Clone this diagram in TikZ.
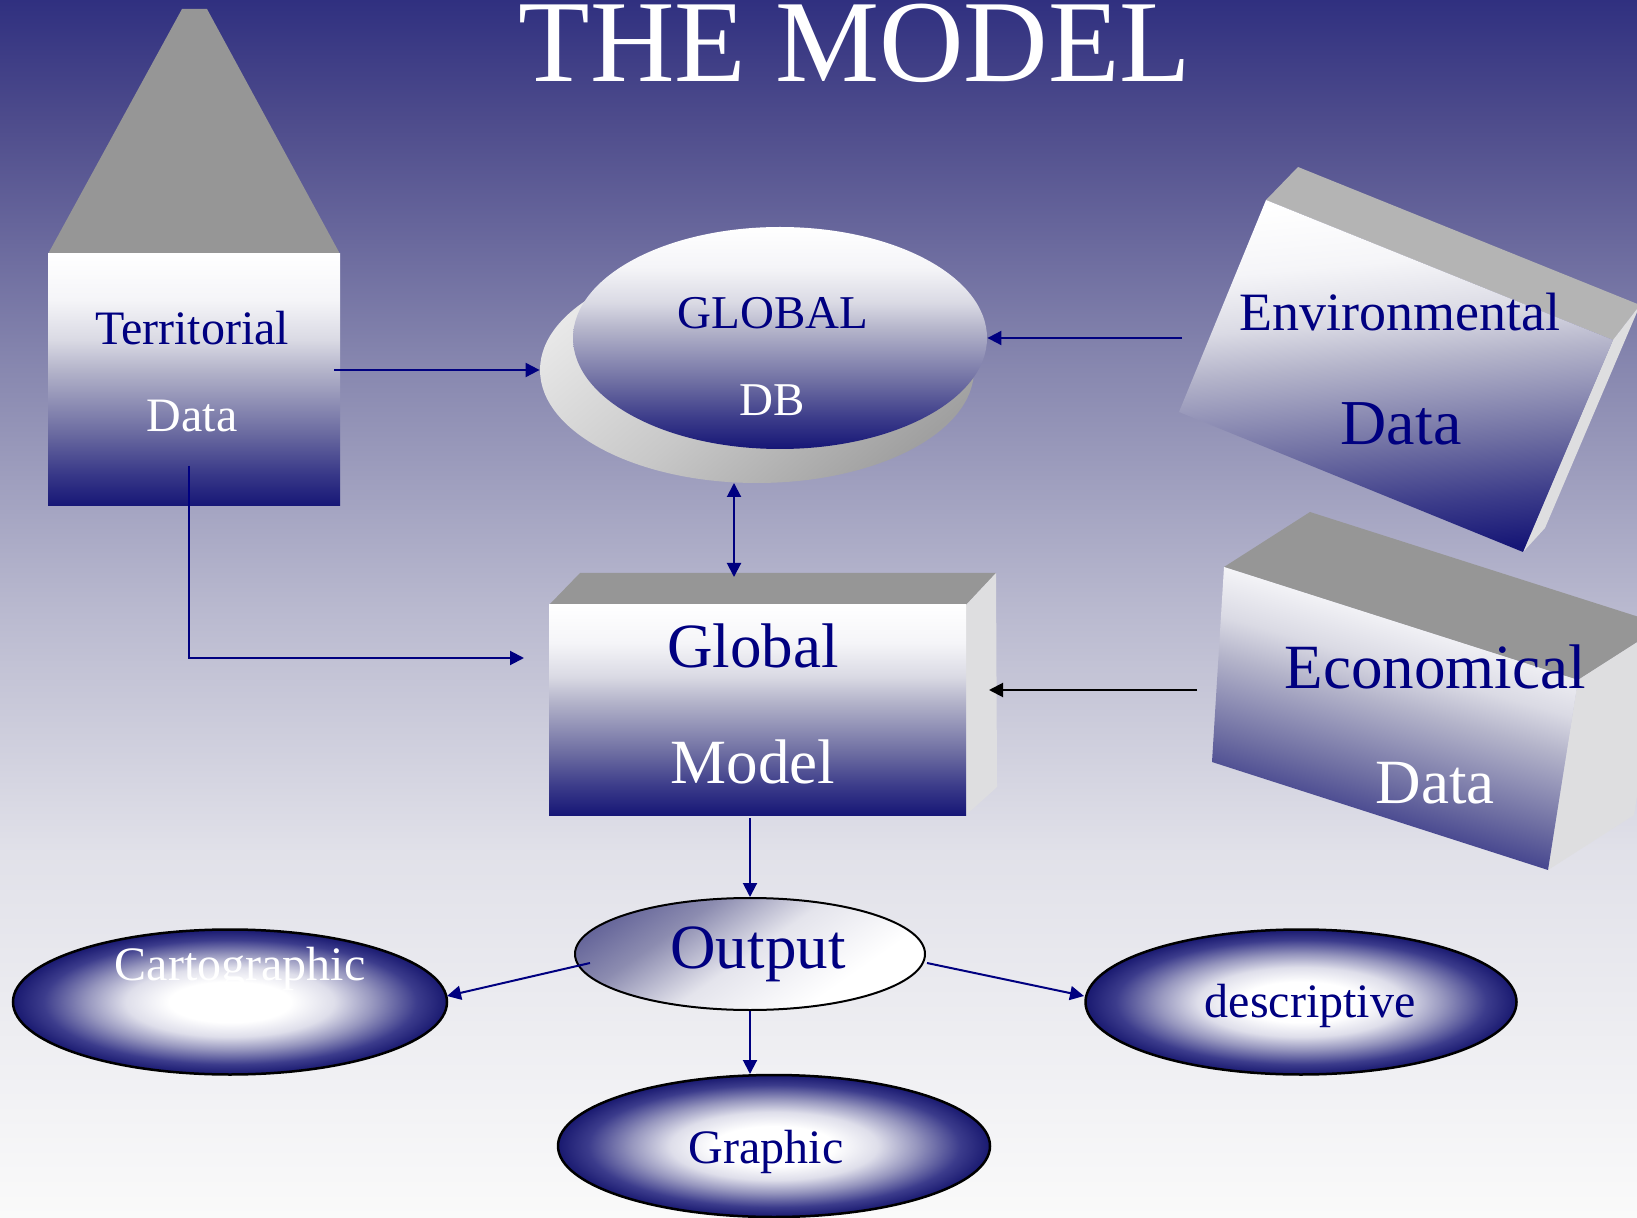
\documentclass[tikz,border=0pt]{standalone}
\usepackage{fontspec}
\setmainfont{Liberation Serif}
\usetikzlibrary{shapes.geometric,arrows.meta}

% palette
\definecolor{navyt}{RGB}{0,0,128}
\definecolor{roofgray}{RGB}{150,150,150}
\definecolor{roofenv}{RGB}{180,180,180}
\definecolor{sidegray}{RGB}{222,222,224}
% background ramp
\definecolor{bgA}{RGB}{250,250,250}
\definecolor{bgB}{RGB}{225,225,233}
\definecolor{bgC}{RGB}{185,185,207}
\definecolor{bgD}{RGB}{135,135,175}
\definecolor{bgE}{RGB}{78,76,140}
\definecolor{bgF}{RGB}{48,48,128}
% face ramp (white top, navy bottom)
\definecolor{fcA}{RGB}{22,22,118}
\definecolor{fcB}{RGB}{60,60,138}
\definecolor{fcC}{RGB}{110,110,162}
\definecolor{fcD}{RGB}{180,180,202}
\definecolor{fcE}{RGB}{218,218,228}
\definecolor{fcF}{RGB}{245,245,248}
% ball ramp
\definecolor{blA}{RGB}{222,222,234}
\definecolor{blB}{RGB}{150,150,190}
\definecolor{blC}{RGB}{60,60,140}
\definecolor{blD}{RGB}{25,25,112}
% base disc
\definecolor{bsA}{RGB}{160,160,160}
\definecolor{bsB}{RGB}{200,200,200}
\definecolor{bsC}{RGB}{232,232,232}
% output disc
\definecolor{otA}{RGB}{228,228,236}
\definecolor{otB}{RGB}{140,140,176}
\definecolor{otC}{RGB}{95,95,150}

\pgfdeclareverticalshading{bgshade}{100bp}{color(0bp)=(bgA); color(25bp)=(bgA);
  color(40bp)=(bgB); color(50bp)=(bgC); color(60bp)=(bgD); color(70bp)=(bgE);
  color(75bp)=(bgF); color(100bp)=(bgF)}
\pgfdeclareverticalshading{faceshade}{100bp}{color(0bp)=(fcA); color(25bp)=(fcA);
  color(32bp)=(fcB); color(40bp)=(fcC); color(52bp)=(fcD); color(58bp)=(fcE);
  color(66bp)=(fcF); color(75bp)=(white); color(100bp)=(white)}
\pgfdeclareradialshading{ballshade}{\pgfpoint{0bp}{0bp}}{color(0bp)=(white);
  color(7bp)=(white); color(12bp)=(blA); color(16.5bp)=(blB); color(21.5bp)=(blC);
  color(25bp)=(blD); color(50bp)=(blD)}
\pgfdeclareverticalshading{baseshade}{100bp}{color(0bp)=(bsA); color(25bp)=(bsA);
  color(50bp)=(bsB); color(75bp)=(bsC); color(100bp)=(bsC)}
\pgfdeclareverticalshading{outshade}{100bp}{color(0bp)=(white); color(32bp)=(white);
  color(50bp)=(otA); color(65bp)=(otB); color(78bp)=(otC); color(100bp)=(otC)}

\begin{document}
\begin{tikzpicture}[x=0.5pt,y=-0.5pt,
  lbl/.style={anchor=base, inner sep=0pt, outer sep=0pt},
  fs24/.style={font=\fontsize{24pt}{24pt}\selectfont},
  fs23/.style={font=\fontsize{23.5pt}{24pt}\selectfont},
  fs27/.style={font=\fontsize{27pt}{27pt}\selectfont},
  fs31/.style={font=\fontsize{31.5pt}{32pt}\selectfont},
  facebox/.style={rectangle, inner sep=0pt, draw=none, shade, shading=faceshade},
  disc/.style={ellipse, inner sep=0pt, draw=black, line width=1.25pt, shade, shading=ballshade},
  conn/.style={draw=navyt, line width=1pt, -{Triangle[length=7pt,width=7pt]}},
  dconn/.style={draw=navyt, line width=1pt, {Triangle[length=7pt,width=7pt]}-{Triangle[length=7pt,width=7pt]}},
  bconn/.style={draw=black, line width=1pt, -{Triangle[length=7pt,width=7pt]}}]

\useasboundingbox (0,0) rectangle (1637,1218);
\clip (0,0) rectangle (1637,1218);
\shade[shading=bgshade] (0,0) rectangle (1637,1218);

% title
\node[lbl, text=white, font=\fontsize{58.5pt}{58pt}\selectfont] (title) at (855,82) {THE MODEL};

% territorial data: house shape
\fill[roofgray] (48,254) -- (182,9) -- (207,9) -- (340,254) -- cycle;
\node[facebox, minimum width=146pt, minimum height=126pt] (terr) at (194,380) {};
\node[lbl, fs24, text=navyt] (terrA) at (192,345) {Territorial};
\node[lbl, fs24, text=white] (terrB) at (192,432) {Data};

% global data base: disc on a tilted base
\node[ellipse, inner sep=0pt, shade, shading=baseshade, shading angle=40,
      minimum width=217pt, minimum height=113pt] (gbase) at (757,370) {};
\node[ellipse, inner sep=0pt, shade, shading=faceshade,
      minimum width=207pt, minimum height=111pt] (gdb) at (780,338) {};
\node[lbl, fs23, text=navyt] (gdbA) at (773,329) {GLOBAL};
\node[lbl, fs23, text=white] (gdbB) at (772,416) {DB};

% global model: box
\fill[roofgray] (549,605) -- (580,573) -- (996,573) -- (966,605) -- cycle;
\fill[sidegray] (966,605) -- (996,573) -- (997,787) -- (966,815) -- cycle;
\node[facebox, minimum width=208.5pt, minimum height=105pt] (gm) at (757.5,710) {};
\node[lbl, fs31, text=navyt] (gmA) at (753,668) {Global};
\node[lbl, fs31, text=white] (gmB) at (753,783) {Model};

% economical data: tilted block
\fill[roofgray] (1224,567) -- (1310,512) -- (1664,625) -- (1578,680) -- cycle;
\fill[sidegray] (1578,680) -- (1664,625) -- (1634,815) -- (1548,870) -- cycle;
\shade[shading=faceshade, shading angle=-16]
  (1224,567) -- (1578,680) -- (1548,870) -- (1212,762) -- cycle;
\node[lbl, fs31, text=navyt] (ecoA) at (1435,689) {Economical};
\node[lbl, fs31, text=white] (ecoB) at (1435,803) {Data};

% environmental data: tilted block
\fill[roofenv] (1266,200) -- (1298,167) -- (1640,305) -- (1613,340) -- cycle;
\fill[sidegray] (1613,340) -- (1640,305) -- (1545,528) -- (1523,552) -- cycle;
\shade[shading=faceshade, shading angle=5]
  (1266,200) -- (1613,340) -- (1523,552) -- (1179,412) -- cycle;
\node[lbl, fs27, text=navyt] (envA) at (1400,331) {Environmental};
\node[lbl, font=\fontsize{32pt}{32pt}\selectfont, text=navyt] (envB) at (1401,445) {Data};

% output and its three products
\node[ellipse, inner sep=0pt, draw=black, line width=1pt, shade, shading=outshade,
      shading angle=35, minimum width=175pt, minimum height=56pt] (out) at (750,954) {};
\node[lbl, fs31, text=navyt] (outA) at (758,968) {Output};

\node[disc, minimum width=217pt, minimum height=72.5pt] (carto) at (230,1002) {};
\node[lbl, fs24, text=white] (cartoA) at (240,980) {Cartographic};
\node[disc, minimum width=215.5pt, minimum height=72.5pt] (desc) at (1301,1002) {};
\node[lbl, fs24, text=navyt] (descA) at (1310,1017) {descriptive};
\node[disc, minimum width=216pt, minimum height=71pt] (graph) at (774,1146) {};
\node[lbl, fs24, text=navyt] (graphA) at (766,1163) {Graphic};

% connector end points
\coordinate (tA) at (334,370);
\coordinate (tB) at (189,466);
\coordinate (tC) at (524,658);
\coordinate (dbS) at (734,483);
\coordinate (gmN) at (734,577);
\coordinate (envL) at (1182,338);
\coordinate (ecoL) at (1197,690);
\coordinate (gmE) at (989,690);
\coordinate (gmS) at (750,818);
\coordinate (oL) at (590,963);
\coordinate (cE) at (447,996);
\coordinate (oR) at (927,963);
\coordinate (dW) at (1084,996);
\coordinate (gN) at (750,1074);

% connectors
\draw[conn] (tA) -- (gbase.west);
\draw[conn] (tB) |- (tC);
\draw[dconn] (dbS) -- (gmN);
\draw[conn] (envL) -- (gdb.east);
\draw[bconn] (ecoL) -- (gmE);
\draw[conn] (gmS) -- (out.north);
\draw[conn] (oL) -- (cE);
\draw[conn] (oR) -- (dW);
\draw[conn] (out.south) -- (gN);
\end{tikzpicture}
\end{document}
